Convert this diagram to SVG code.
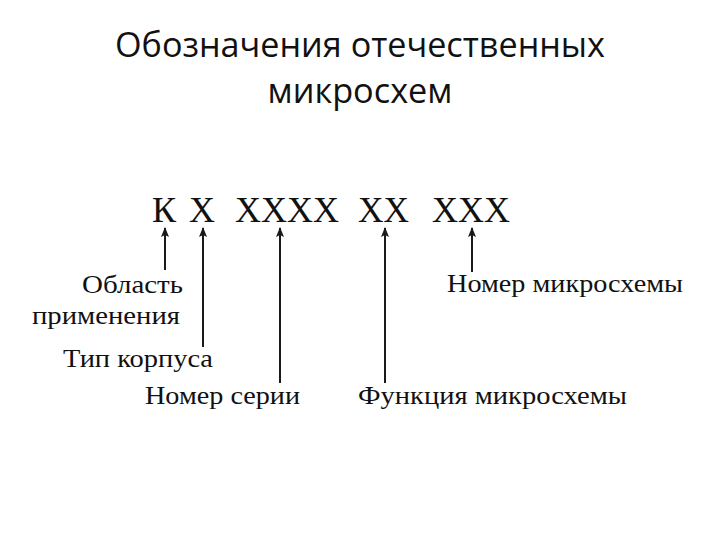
<svg xmlns="http://www.w3.org/2000/svg" width="720" height="540" viewBox="0 0 720 540">
<defs>
<style>
.title{font-family:"Open Sans","Noto Sans","DejaVu Sans",sans-serif;font-size:34px;fill:#111;text-anchor:middle}
.code{font-family:"Liberation Serif","Times New Roman",serif;font-size:36px;fill:#111}
.lbl{font-family:"Liberation Serif","Times New Roman",serif;font-size:25px;fill:#111}
.arr{stroke:#1a1a1a;stroke-width:2;fill:none;marker-end:url(#ah)}
</style>
<marker id="ah" viewBox="0 0 10 10" refX="9" refY="5" markerWidth="5" markerHeight="5" orient="auto" markerUnits="strokeWidth">
<path d="M0,1 L10,5 L0,9 L2,5 Z" fill="#1a1a1a"/>
</marker>
</defs>
<rect width="720" height="540" fill="#fff"/>
<g id="title">
<text class="title" x="360" y="57" textLength="490" lengthAdjust="spacingAndGlyphs">Обозначения отечественных</text>
<text class="title" x="360" y="103" textLength="185" lengthAdjust="spacingAndGlyphs">микросхем</text>
</g>
<g id="code">
<text class="code" x="152" y="222">К</text>
<text class="code" x="189" y="222">Х</text>
<text class="code" x="235" y="222" textLength="104" lengthAdjust="spacingAndGlyphs">XXXX</text>
<text class="code" x="358" y="222" textLength="51" lengthAdjust="spacingAndGlyphs">XX</text>
<text class="code" x="432" y="222" textLength="78" lengthAdjust="spacingAndGlyphs">XXX</text>
</g>
<g id="connectors">
<line class="arr" x1="165" y1="270" x2="165" y2="228"/>
<line class="arr" x1="203" y1="347" x2="203" y2="228"/>
<line class="arr" x1="280" y1="383" x2="280" y2="228"/>
<line class="arr" x1="385" y1="383" x2="385" y2="228"/>
<line class="arr" x1="472" y1="272" x2="472" y2="228"/>
</g>
<g id="label-oblast">
<text class="lbl" x="82" y="293" textLength="101" lengthAdjust="spacingAndGlyphs">Область</text>
<text class="lbl" x="32" y="324" textLength="148" lengthAdjust="spacingAndGlyphs">применения</text>
</g>
<g id="label-tip">
<text class="lbl" x="63" y="367" textLength="150" lengthAdjust="spacingAndGlyphs">Тип корпуса</text>
</g>
<g id="label-seria">
<text class="lbl" x="145" y="404" textLength="155" lengthAdjust="spacingAndGlyphs">Номер серии</text>
</g>
<g id="label-funkcia">
<text class="lbl" x="358" y="404" textLength="269" lengthAdjust="spacingAndGlyphs">Функция микросхемы</text>
</g>
<g id="label-nomer">
<text class="lbl" x="447" y="292" textLength="236" lengthAdjust="spacingAndGlyphs">Номер микросхемы</text>
</g>
</svg>
